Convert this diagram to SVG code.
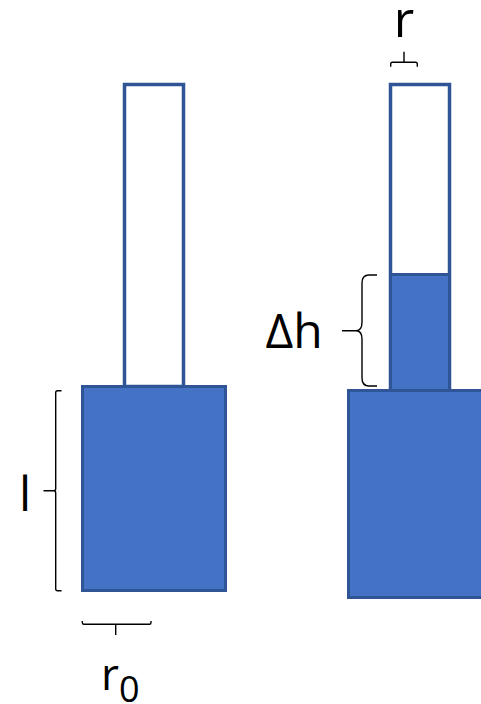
<svg xmlns="http://www.w3.org/2000/svg" width="481" height="704" viewBox="0 0 481 704">
<style>
.tube{fill:#ffffff;stroke:#2F5597;stroke-width:3.5}
.solid{fill:#4472C4;stroke:#2F5597;stroke-width:3}
.br{fill:none;stroke:#000;stroke-width:1.4}
.lbl{font-family:"Open Sans","Liberation Sans",sans-serif;fill:#000}
</style>
<rect width="481" height="704" fill="#fff"/>
<g id="left-tube"><rect class="tube" x="124.5" y="84.5" width="59" height="302"/></g>
<g id="left-block"><rect class="solid" x="82.5" y="386.5" width="143" height="204"/></g>
<g id="right-tube"><rect class="tube" x="390.5" y="84.5" width="59" height="306"/><rect class="solid" x="390.5" y="274.5" width="59" height="116"/></g>
<g id="right-block"><rect class="solid" x="348.5" y="390.5" width="136" height="207"/></g>
<g id="brackets">
<path class="br" d="M61.5,390.7 H57.5 Q55.7,390.7 55.7,392.7 V488.7 Q55.7,490.7 53.7,490.7 H43.5 M53.7,490.7 Q55.7,490.7 55.7,492.7 V588.7 Q55.7,590.7 57.5,590.7 H61.5"/>
<path class="br" d="M82.3,621 V622.5 Q82.3,624.3 84,624.3 H149.5 Q151,624.3 151,622.5 V621 M115.7,624.3 V635"/>
<path class="br" d="M390.7,66.7 V64 Q390.7,62.3 392.5,62.3 H415.5 Q417.3,62.3 417.3,64 V66.7 M404,62.3 V51.7"/>
<path class="br" d="M377,275 H369 Q362,275 362,283 V322 Q362,330.7 356,330.7 H342 M356,330.7 Q362,330.7 362,339 V378 Q362,386 369,386 H377"/>
</g>
<g id="labels">
<text class="lbl" x="25" y="511" font-size="48" text-anchor="middle">l</text>
<text class="lbl" x="294" y="348" font-size="48" text-anchor="middle">Δh</text>
<text class="lbl" x="404" y="37" font-size="50" text-anchor="middle">r</text>
<text class="lbl" x="101" y="690" font-size="44">r<tspan font-size="36" dy="12">0</tspan></text>
</g>
</svg>
